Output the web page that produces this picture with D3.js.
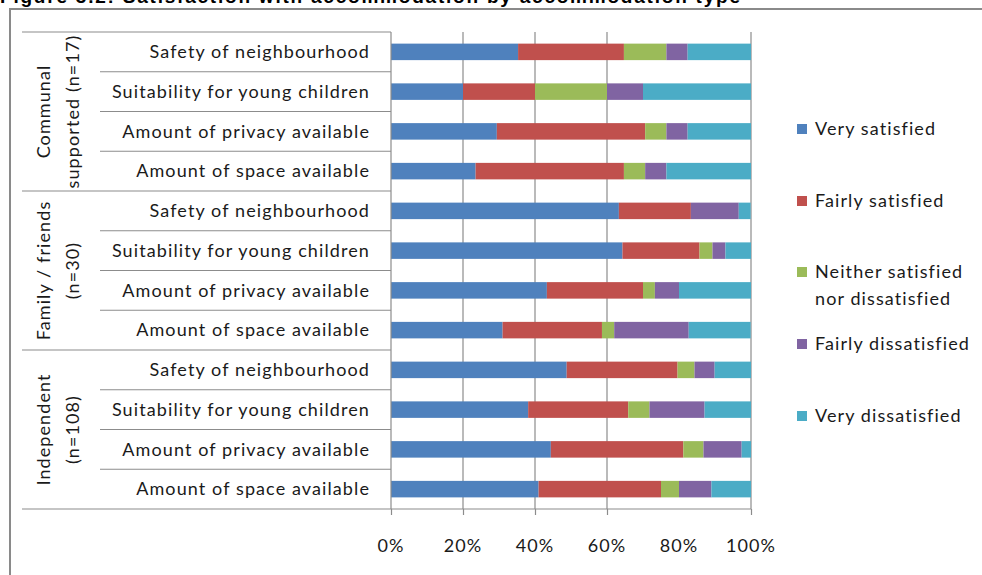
<!DOCTYPE html>
<meta charset="utf-8">
<head>
    <style>
        body { margin: 0; background: #fff; }
        svg text { font-family: "Lato", "Open Sans", sans-serif; fill: #1a1a1a; }
        .lbl { font-size: 18px; letter-spacing: 1.1px; }
    </style>
</head>
<body>
<script src="https://d3js.org/d3.v7.min.js"></script>
<script>
    // chart data (percent of respondents)
    var groups = [
        ["Communal", "supported (n=17)"],
        ["Family / friends", "(n=30)"],
        ["Independent", "(n=108)"]
    ];
    var items = ["Safety of neighbourhood", "Suitability for young children",
        "Amount of privacy available", "Amount of space available"];
    var seriesNames = ["Very satisfied", "Fairly satisfied", "Neither satisfied nor dissatisfied",
        "Fairly dissatisfied", "Very dissatisfied"];
    var colors = ["#4F81BD", "#C0504D", "#9BBB59", "#8064A2", "#4BACC6"];

    var verySatisfied   = [35.3, 20, 29.4, 23.5, 63.3, 64.3, 43.3, 31.0, 48.8, 38.1, 44.4, 41.0];
    var fairlySatisfied = [29.4, 20, 41.2, 41.2, 20.0, 21.4, 26.7, 27.6, 30.8, 27.8, 36.8, 34.0];
    var neither         = [11.8, 20, 5.9, 5.9, 0, 3.6, 3.3, 3.4, 4.7, 5.9, 5.6, 5.0];
    var fairlyDis       = [5.9, 10, 5.9, 5.9, 13.3, 3.6, 6.7, 20.7, 5.6, 15.3, 10.6, 9.0];
    var veryDis         = [17.6, 30, 17.6, 23.5, 3.3, 7.1, 20.0, 17.2, 10.1, 12.9, 2.6, 11.0];

    var tickLabels = [0, 20, 40, 60, 80, 100];
    var gridTicks = [20, 40, 60, 100];   // the 80% line is missing in the original
    var tickMarks = [0, 20, 40, 60, 100];

    var width = 982, height = 575;
    var plot = { left: 391, right: 751, top: 32, bottom: 509 };

    var svg = d3.select("body").append("svg")
        .attr("width", width)
        .attr("height", height);

    // title, cut off at the top of the picture
    svg.append("text")
        .attr("x", 0)
        .attr("y", 3)
        .style("font-family", "Liberation Sans, Arial, sans-serif")
        .style("font-weight", "bold")
        .style("font-size", "19px")
        .attr("textLength", 740)
        .style("fill", "#000")
        .text("Figure 3.2: Satisfaction with accommodation by accommodation type");

    // outer frame
    svg.append("rect")
        .attr("x", 10).attr("y", 9)
        .attr("width", 1000).attr("height", 600)
        .style("fill", "none")
        .style("stroke", "#8a8a8a")
        .style("stroke-width", 2);

    var rows = [];
    groups.forEach(function(g, gi) {
        items.forEach(function(it, ii) {
            var i = gi * items.length + ii;
            rows.push({
                key: gi + "-" + ii, group: gi, item: it,
                v0: verySatisfied[i], v1: fairlySatisfied[i], v2: neither[i],
                v3: fairlyDis[i], v4: veryDis[i]
            });
        });
    });

    var x = d3.scaleLinear().domain([0, 100]).range([plot.left, plot.right]);
    var y = d3.scaleBand()
        .domain(rows.map(function(d) { return d.key; }))
        .range([plot.top, plot.bottom])
        .paddingInner(0.585)
        .paddingOuter(0.2925);
    var step = y.step();

    var lineColor = "#8c8c8c";

    // gridlines
    svg.append("g").selectAll("line")
        .data(gridTicks)
        .enter().append("line")
        .attr("x1", function(d) { return x(d); })
        .attr("x2", function(d) { return x(d); })
        .attr("y1", plot.top)
        .attr("y2", plot.bottom)
        .style("stroke", lineColor)
        .style("stroke-width", 1.2);

    // stacked bars
    var stack = d3.stack().keys(["v0", "v1", "v2", "v3", "v4"]);
    var layers = stack(rows);

    svg.append("g").selectAll("g")
        .data(layers)
        .enter().append("g")
        .style("fill", function(d, i) { return colors[i]; })
        .selectAll("rect")
        .data(function(d) { return d; })
        .enter().append("rect")
        .attr("x", function(d) { return x(d[0]); })
        .attr("width", function(d) { return Math.max(0, x(d[1]) - x(d[0])); })
        .attr("y", function(d) { return y(d.data.key); })
        .attr("height", y.bandwidth());

    // category separators in the label area
    var sep = svg.append("g");
    rows.forEach(function(d, i) {
        var yy = y(d.key) - (step - y.bandwidth()) / 2;
        var first = (i % items.length) === 0;
        sep.append("line")
            .attr("x1", first ? 22 : 100)
            .attr("x2", plot.left)
            .attr("y1", yy).attr("y2", yy)
            .style("stroke", lineColor)
            .style("stroke-width", 1.2);
    });

    // left axis line
    svg.append("line")
        .attr("x1", plot.left).attr("x2", plot.left)
        .attr("y1", plot.top).attr("y2", plot.bottom)
        .style("stroke", lineColor)
        .style("stroke-width", 1.2);

    // bottom axis
    var xAxis = d3.axisBottom(x)
        .tickValues(tickMarks)
        .tickSize(6)
        .tickFormat("");
    var gx = svg.append("g")
        .attr("transform", "translate(0," + plot.bottom + ")")
        .call(xAxis);
    gx.select(".domain").remove();
    gx.selectAll("line").style("stroke", lineColor).style("stroke-width", 1.2);
    svg.append("line")
        .attr("x1", 22).attr("x2", plot.right)
        .attr("y1", plot.bottom).attr("y2", plot.bottom)
        .style("stroke", lineColor)
        .style("stroke-width", 1.2);

    svg.append("g").selectAll("text")
        .data(tickLabels)
        .enter().append("text")
        .attr("class", "lbl")
        .attr("x", function(d) { return x(d); })
        .attr("y", 552)
        .attr("text-anchor", "middle")
        .text(function(d) { return d + "%"; });

    // row labels
    svg.append("g").selectAll("text")
        .data(rows)
        .enter().append("text")
        .attr("class", "lbl")
        .attr("x", 370)
        .attr("y", function(d) { return y(d.key) + y.bandwidth() / 2; })
        .attr("dy", "0.35em")
        .attr("text-anchor", "end")
        .text(function(d) { return d.item; });

    // group labels, rotated
    groups.forEach(function(g, gi) {
        var y0 = y(gi + "-0") - (step - y.bandwidth()) / 2;
        var cy = y0 + step * items.length / 2;
        var t = svg.append("text")
            .attr("class", "lbl")
            .attr("transform", "translate(58," + cy + ") rotate(-90)")
            .attr("text-anchor", "middle");
        g.forEach(function(line, li) {
            t.append("tspan")
                .attr("x", 0)
                .attr("y", li === 0 ? -8 : 21)
                .text(line);
        });
    });

    // legend
    var legendY = [129, 201, 272, 344, 416];
    var legend = svg.append("g").selectAll("g")
        .data(seriesNames)
        .enter().append("g")
        .attr("transform", function(d, i) { return "translate(797," + legendY[i] + ")"; });
    legend.append("rect")
        .attr("x", 0).attr("y", -5)
        .attr("width", 10).attr("height", 10)
        .style("fill", function(d, i) { return colors[i]; });
    legend.append("text")
        .attr("class", "lbl")
        .attr("x", 18)
        .attr("y", 0)
        .attr("dy", "0.35em")
        .each(function(d) {
            var t = d3.select(this);
            if (d.indexOf("Neither") === 0) {
                t.append("tspan").attr("x", 18).text("Neither satisfied");
                t.append("tspan").attr("x", 18).attr("dy", "1.5em").text("nor dissatisfied");
            } else {
                t.text(d);
            }
        });
</script>
</body>
